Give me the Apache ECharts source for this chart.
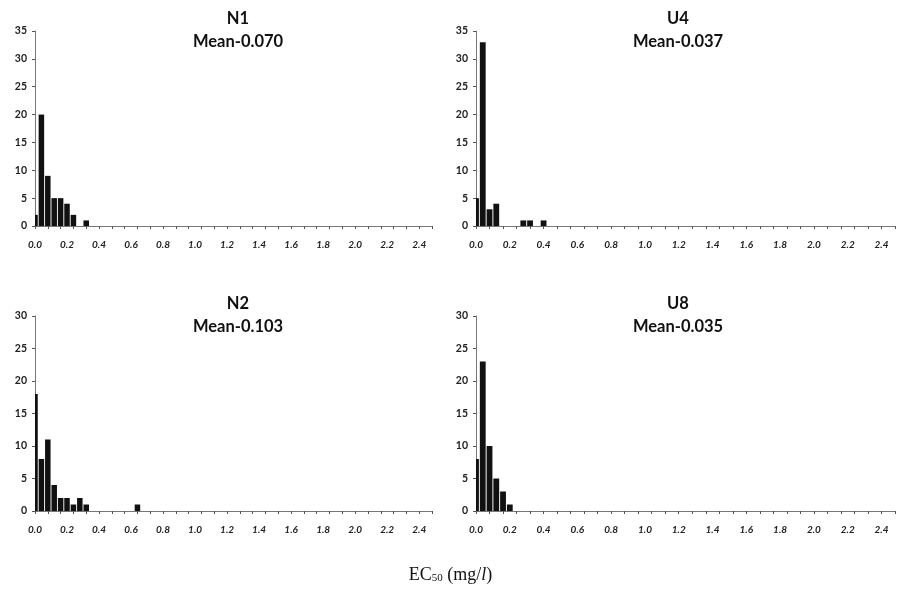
<!DOCTYPE html>
<html>
<head>
<meta charset="utf-8">
<script src="https://cdn.jsdelivr.net/npm/echarts@6/dist/echarts.min.js"></script>
<style>html,body{margin:0;padding:0;background:#fff;}#c{width:901px;height:592px;}</style>
</head>
<body>
<div id="c"></div>
<script>
// Bin starts (mg/l), bin width 0.04
const bins = ["0.00","0.04","0.08","0.12","0.16","0.20","0.24","0.28","0.32","0.36",
"0.40","0.44","0.48","0.52","0.56","0.60","0.64","0.68","0.72","0.76",
"0.80","0.84","0.88","0.92","0.96","1.00","1.04","1.08","1.12","1.16",
"1.20","1.24","1.28","1.32","1.36","1.40","1.44","1.48","1.52","1.56",
"1.60","1.64","1.68","1.72","1.76","1.80","1.84","1.88","1.92","1.96",
"2.00","2.04","2.08","2.12","2.16","2.20","2.24","2.28","2.32","2.36",
"2.40","2.44","2.48"];
const countsN1 = [2,20,9,5,5,4,2,0,1];
const countsU4 = [5,33,3,4,0,0,0,1,1,0,1];
const countsN2 = [18,8,11,4,2,2,1,2,1,0,0,0,0,0,0,0,1];
const countsU8 = [8,23,10,5,3,1];
const panelNames = ["N1","U4","N2","U8"];
const panelMeans = ["Mean-0.070","Mean-0.037","Mean-0.103","Mean-0.035"];
const yMaxTop = 35, yMaxBottom = 30, yStep = 5;

const chart = echarts.init(document.getElementById('c'));
const grids = [
  {left:35, top:31, width:397, height:195},
  {left:476, top:31, width:419, height:195},
  {left:35, top:316, width:397, height:195},
  {left:476, top:316, width:419, height:195}
];
const series = [countsN1, countsU4, countsN2, countsU8];
const titleX = [233, 673, 233, 673];
const titleY = [2, 287];
const xAxes = [], yAxes = [], ser = [], titles = [];

function renderBar(params, api) {
  const idx = api.value(0), val = api.value(1);
  if (!val) return null;
  const p0 = api.coord([idx, 0]);
  const p1 = api.coord([idx, val]);
  const w = api.size([1, 0])[0] * 0.86;
  const cs = params.coordSys;
  const rect = echarts.graphic.clipRectByRect(
    {x: p0[0] - w / 2, y: p1[1], width: w, height: p0[1] - p1[1]},
    {x: cs.x, y: cs.y, width: cs.width, height: cs.height});
  if (!rect) return null;
  return {type: 'rect', shape: rect, style: {fill: '#111'}};
}

for (let i = 0; i < 4; i++) {
  xAxes.push({
    type:'category', gridIndex:i, data:bins, boundaryGap:false,
    axisLine:{lineStyle:{color:'#777', width:1}},
    axisTick:{show:true, interval:1, length:3, lineStyle:{color:'#555'}},
    axisLabel:{interval:(idx)=>idx % 5 === 0, margin:14, color:'#222', fontSize:10,
      fontStyle:'italic', fontWeight:'bold', fontFamily:'Lato',
      formatter:v=>Number(v).toFixed(1)},
    splitLine:{show:false}
  });
  yAxes.push({
    type:'value', gridIndex:i, min:0, max: i<2?yMaxTop:yMaxBottom, interval:yStep,
    axisLine:{show:true, lineStyle:{color:'#777', width:1}},
    axisTick:{show:true, length:3, lineStyle:{color:'#555'}},
    axisLabel:{color:'#222', fontSize:10.5, fontWeight:'bold', fontFamily:'Lato', margin:8},
    splitLine:{show:false}
  });
  ser.push({
    type:'custom', xAxisIndex:i, yAxisIndex:i,
    data: series[i].map((v, k) => [k, v]),
    renderItem: renderBar, clip:true, silent:true
  });
  titles.push({
    text: panelNames[i] + '\n' + panelMeans[i], left: titleX[i], top: titleY[i<2?0:1],
    textAlign:'center',
    textStyle:{fontFamily:'Lato', fontWeight:'bold', fontSize:16.5, color:'#111', lineHeight:23}
  });
}
chart.setOption({
  animation:false,
  backgroundColor:'#fff',
  title: titles,
  grid: grids,
  xAxis: xAxes,
  yAxis: yAxes,
  series: ser,
  graphic: [{
    type:'text', left:'center', top:566,
    style:{
      text:'{a|EC}{s|50}{a| (mg/}{i|l}{a|)}',
      rich:{
        a:{fontFamily:'Liberation Serif', fontSize:18, fill:'#111'},
        s:{fontFamily:'Liberation Serif', fontSize:11, fill:'#111', verticalAlign:'bottom', padding:[6,0,0,0]},
        i:{fontFamily:'Liberation Serif', fontSize:18, fontStyle:'italic', fill:'#111'}
      }
    }
  }]
});
</script>
</body>
</html>
